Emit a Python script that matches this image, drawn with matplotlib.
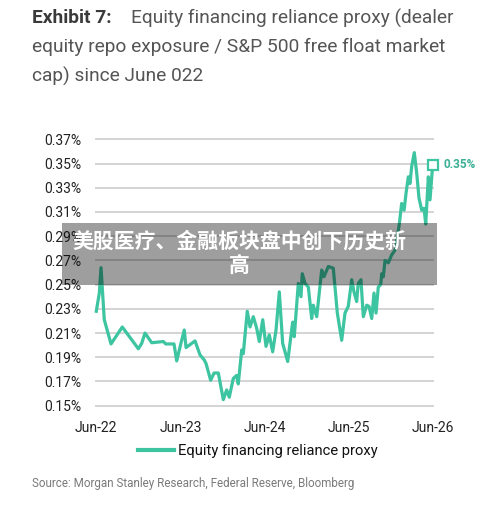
import matplotlib
matplotlib.use("Agg")
import matplotlib.pyplot as plt
from matplotlib.patches import Rectangle

# ---- data (decimal years, percent) ----
t_years = [2022.50, 2022.536, 2022.556, 2022.595, 2022.675, 2022.809, 2023.00, 2023.04,
           2023.079, 2023.159, 2023.297, 2023.325, 2023.424, 2023.456, 2023.515, 2023.546,
           2023.567, 2023.674, 2023.733, 2023.781, 2023.804, 2023.86, 2023.90, 2023.951,
           2024.01, 2024.05, 2024.081, 2024.129, 2024.169, 2024.188, 2024.229, 2024.248,
           2024.295, 2024.328, 2024.367, 2024.407, 2024.438, 2024.479, 2024.518, 2024.557,
           2024.597, 2024.637, 2024.676, 2024.716, 2024.776, 2024.835, 2024.854, 2024.902,
           2024.934, 2024.949, 2024.982, 2025.021, 2025.061, 2025.08, 2025.121, 2025.18,
           2025.207, 2025.259, 2025.318, 2025.366, 2025.418, 2025.457, 2025.496, 2025.537,
           2025.564, 2025.596, 2025.615, 2025.647, 2025.675, 2025.715, 2025.743, 2025.775,
           2025.802, 2025.826, 2025.853, 2025.882, 2025.894, 2025.913, 2025.933, 2025.972,
           2026.012, 2026.052, 2026.079, 2026.103, 2026.131, 2026.16, 2026.183, 2026.21,
           2026.23, 2026.25, 2026.281, 2026.31, 2026.337, 2026.369, 2026.397, 2026.417,
           2026.448, 2026.468, 2026.50]
proxy_pct = [0.228, 0.243, 0.264, 0.221, 0.201, 0.215, 0.197, 0.2015,
             0.210, 0.202, 0.203, 0.201, 0.201, 0.187, 0.204, 0.2125,
             0.198, 0.2035, 0.192, 0.188, 0.185, 0.171, 0.177, 0.177,
             0.155, 0.163, 0.157, 0.1725, 0.175, 0.168, 0.196, 0.193,
             0.228, 0.215, 0.2235, 0.214, 0.203, 0.221, 0.199, 0.2085,
             0.1945, 0.2125, 0.244, 0.2015, 0.1865, 0.219, 0.207, 0.251,
             0.240, 0.259, 0.251, 0.248, 0.222, 0.233, 0.2235, 0.262,
             0.2565, 0.265, 0.2635, 0.2265, 0.204, 0.2265, 0.232, 0.254,
             0.244, 0.236, 0.251, 0.254, 0.2235, 0.233, 0.232, 0.222,
             0.243, 0.2265, 0.248, 0.250, 0.259, 0.2565, 0.270, 0.268,
             0.2745, 0.2785, 0.2895, 0.300, 0.317, 0.3115, 0.3255, 0.339,
             0.3335, 0.3475, 0.359, 0.342, 0.3215, 0.3115, 0.313, 0.300,
             0.339, 0.320, 0.349]

x_ticks = [2022.5, 2023.5, 2024.5, 2025.5, 2026.5]
x_tick_labels = ["Jun-22", "Jun-23", "Jun-24", "Jun-25", "Jun-26"]
y_ticks = [0.15, 0.17, 0.19, 0.21, 0.23, 0.25, 0.27, 0.29, 0.31, 0.33, 0.35, 0.37]
y_tick_labels = ["0.15%", "0.17%", "0.19%", "0.21%", "0.23%", "0.25%", "0.27%",
                 "0.29%", "0.31%", "0.33%", "0.35%", "0.37%"]
series_name = "Equity financing reliance proxy"
end_label = "0.35%"
banner_lines = ["美股医疗、金融板块盘中创下历史新", "高"]

LINE = "#3DC4A0"
W, H = 500, 509
plt.rcParams['font.family'] = ['Roboto', 'DejaVu Sans']

fig = plt.figure(figsize=(W / 100, H / 100), dpi=100)
fig.patch.set_facecolor("white")

def fx(px):
    return px / W

def fy(py):
    return 1 - py / H

ax = fig.add_axes([fx(96.3), fy(405.7), fx(432.7) - fx(96.3), fy(139.3) - fy(405.7)])
ax.set_xlim(2022.5, 2026.5)
ax.set_ylim(0.15, 0.37)
ax.set_yticks(y_ticks)
ax.set_yticklabels(y_tick_labels)
ax.set_xticks(x_ticks)
ax.set_xticklabels(x_tick_labels)
ax.tick_params(axis="both", length=0, labelsize=10, colors="#222222")
ax.tick_params(axis="y", pad=11)
ax.tick_params(axis="x", pad=11)
for s in ax.spines.values():
    s.set_visible(False)
ax.grid(axis="y", color="#d4d4d4", linewidth=1.4)
ax.set_axisbelow(True)
for gl in ax.get_ygridlines():
    gl.set_clip_on(False)

ln, = ax.plot(t_years, proxy_pct, color=LINE, linewidth=2.3, solid_joinstyle="round",
              label=series_name, clip_on=False, zorder=3)
ax.plot([t_years[-1]], [proxy_pct[-1]], marker="s", markersize=6.5, markerfacecolor="white",
        markeredgecolor=LINE, markeredgewidth=1.6, clip_on=False, zorder=4)
ax.annotate(end_label, xy=(t_years[-1], proxy_pct[-1]), xytext=(8, 0),
            textcoords="offset points", va="center", ha="left", fontsize=8.5,
            color="#3AAF94", fontweight="bold", annotation_clip=False)

leg = fig.legend(handles=[ln], labels=[series_name], loc="center",
                 bbox_to_anchor=(fx(258), fy(451)), frameon=False, fontsize=10.6,
                 handlelength=2.4, handletextpad=0.3, labelcolor="#111111")
for h in leg.legend_handles:
    h.set_linewidth(3)

# title
TS = 13.8
fig.text(fx(32), fy(18), "Exhibit 7:", fontsize=TS, fontweight="bold", color="#3a3a3a",
         va="center", ha="left")
fig.text(fx(131), fy(18), "Equity financing reliance proxy (dealer", fontsize=TS,
         color="#555555", va="center", ha="left")
fig.text(fx(32), fy(47), "equity repo exposure / S&P 500 free float market", fontsize=TS,
         color="#555555", va="center", ha="left")
fig.text(fx(32), fy(76), "cap) since June 022", fontsize=TS,
         color="#555555", va="center", ha="left")

fig.text(fx(32), fy(484), "Source: Morgan Stanley Research, Federal Reserve, Bloomberg",
         fontsize=8.4, color="#7a7a7a", va="center", ha="left")

# banner overlay
fig.patches.append(Rectangle((fx(62), fy(285)), fx(437) - fx(62), fy(223) - fy(285),
                             transform=fig.transFigure, facecolor="black", alpha=0.38,
                             edgecolor="none", zorder=10))
cjk = ['Noto Sans CJK SC', 'DejaVu Sans']
fig.text(fx(239), fy(241), banner_lines[0], fontsize=15, fontweight="bold", color="white",
         family=cjk, ha="center", va="center", zorder=11)
fig.text(fx(239), fy(265), banner_lines[1], fontsize=15, fontweight="bold", color="white",
         family=cjk, ha="center", va="center", zorder=11)

fig.savefig("out.png", dpi=100, facecolor="white")
